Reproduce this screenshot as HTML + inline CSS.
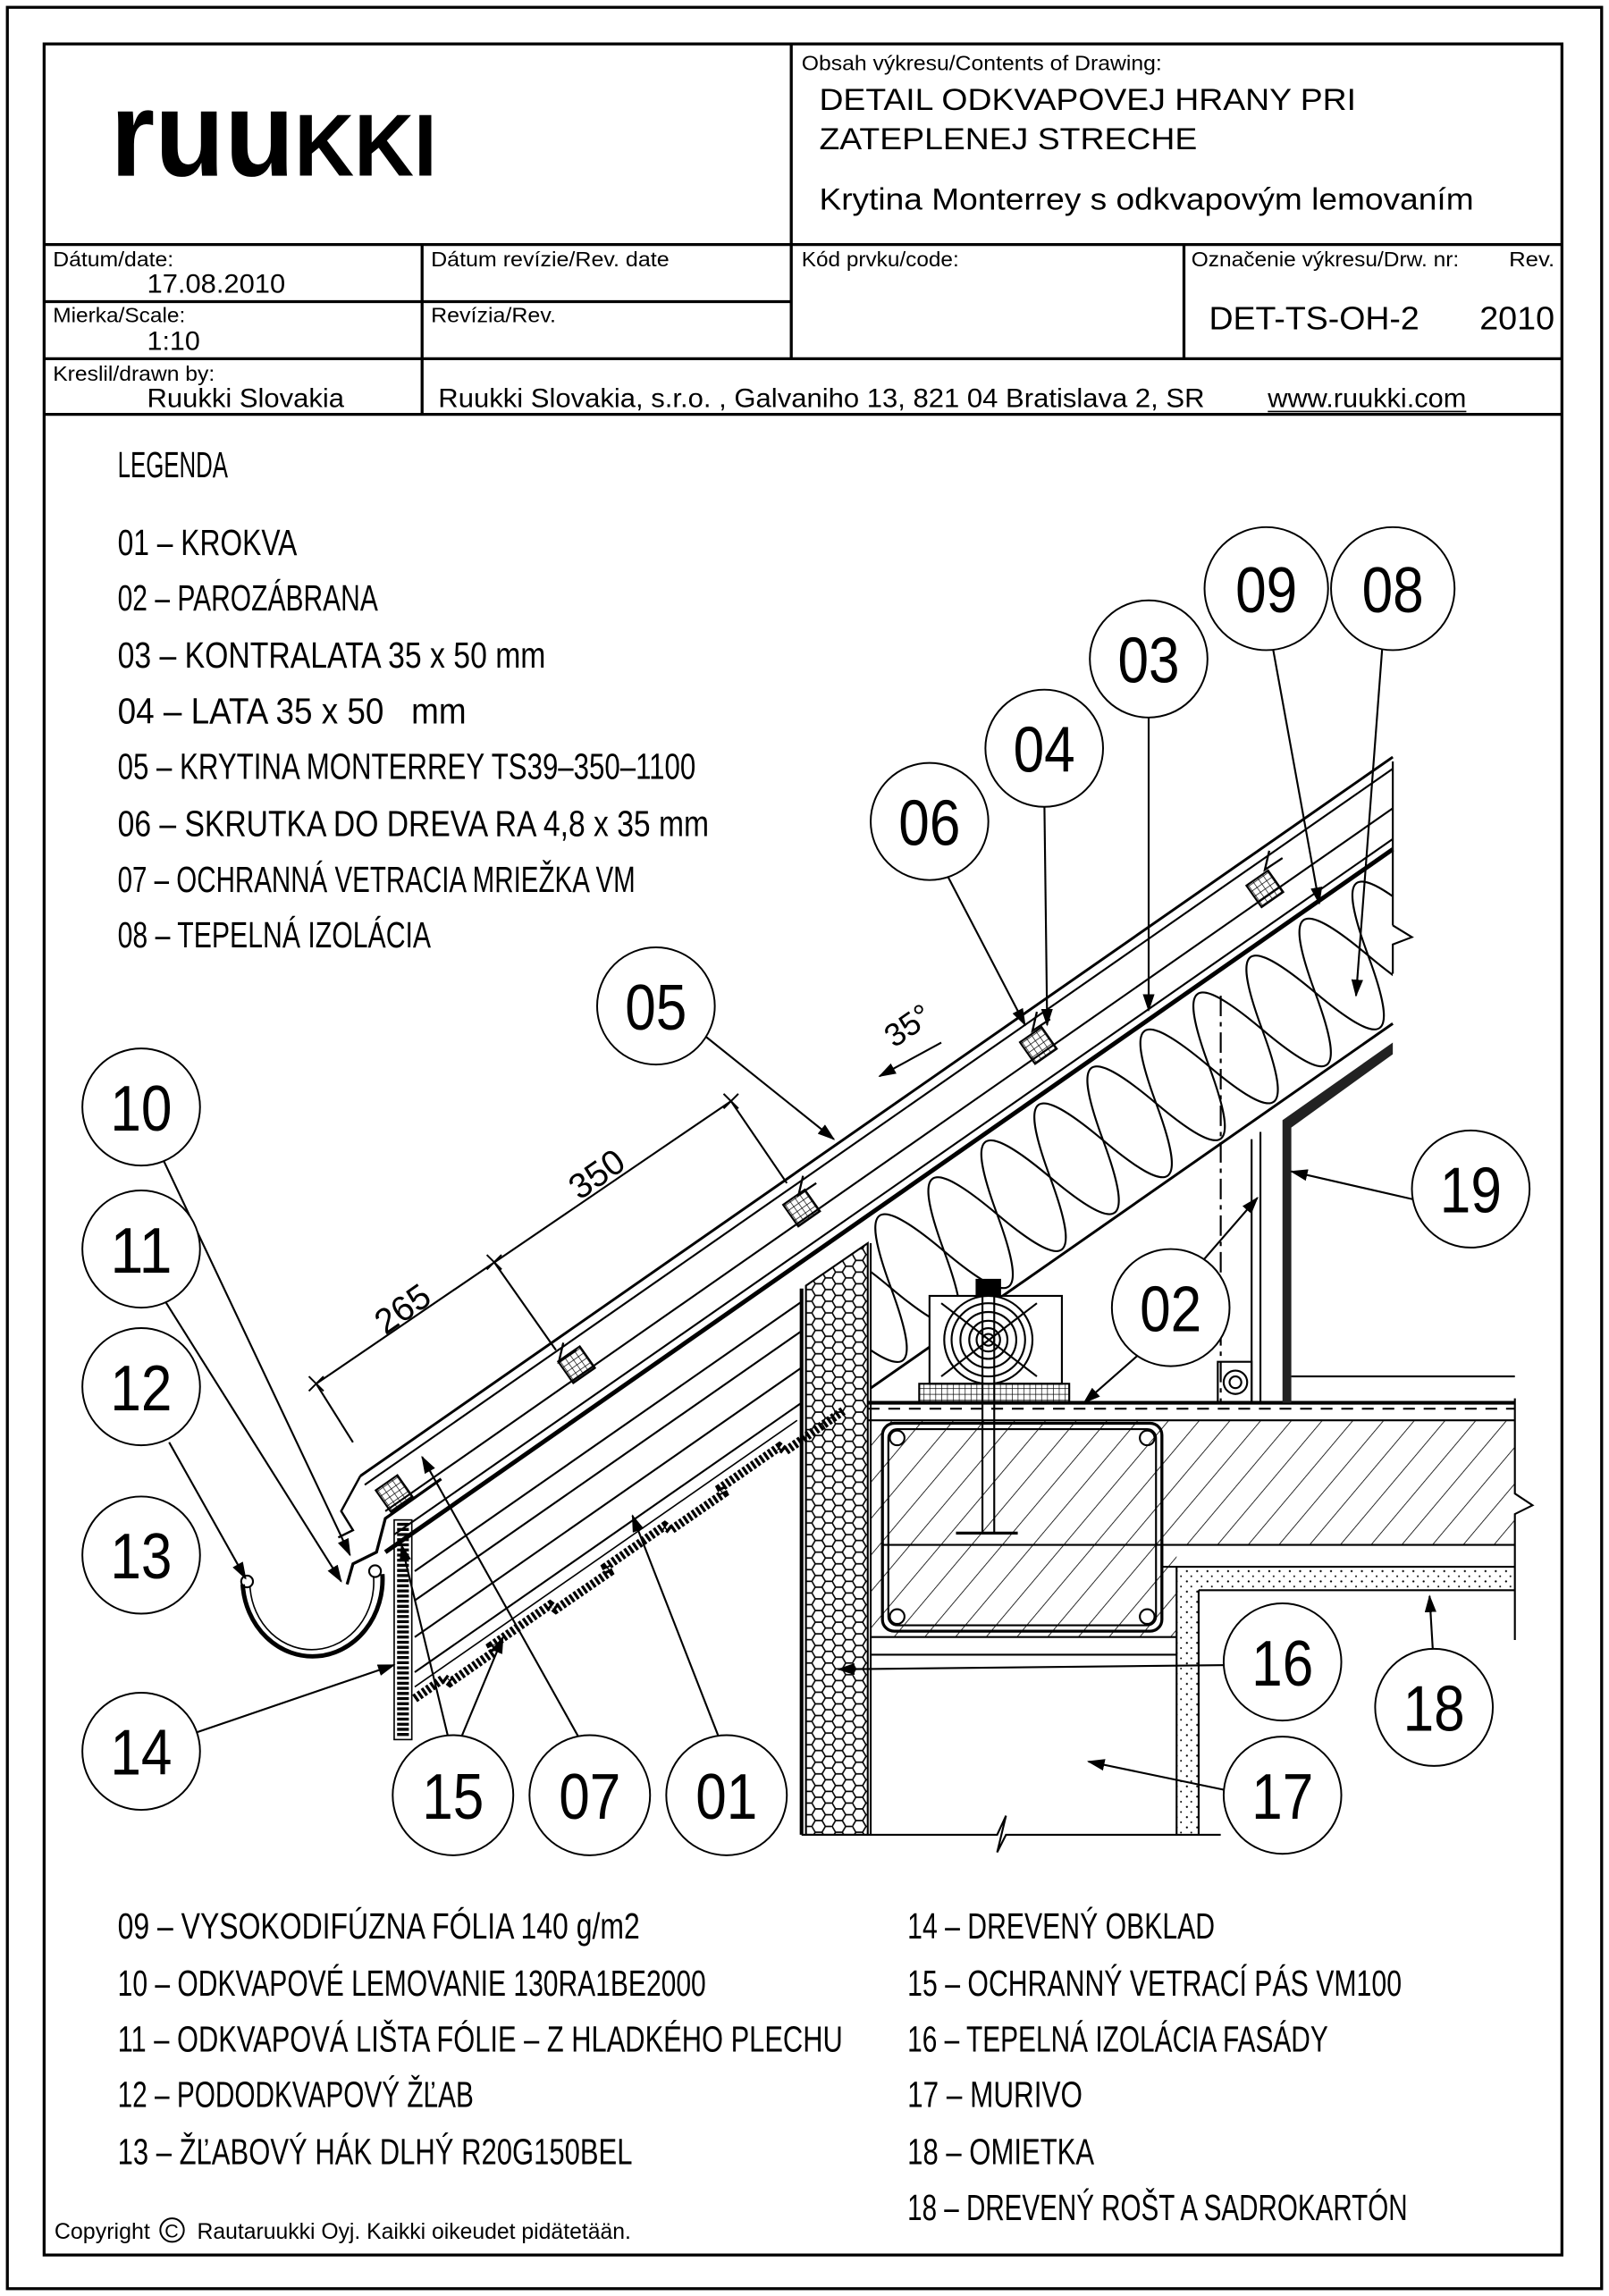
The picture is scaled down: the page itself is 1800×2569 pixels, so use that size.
<!DOCTYPE html>
<html><head><meta charset="utf-8"><style>
html,body{margin:0;padding:0;background:#fff}
svg{display:block}
.t{font-family:"Liberation Sans",sans-serif;fill:#000}
.l{font-family:"Liberation Sans",sans-serif;fill:#000;font-size:25px}
.n{font-family:"Liberation Sans",sans-serif;fill:#000;font-size:44px}
</style></head><body>
<svg width="1800" height="2569" viewBox="0 0 1094 1568" preserveAspectRatio="none" xmlns="http://www.w3.org/2000/svg">
<defs>
<marker id="ar" markerWidth="12" markerHeight="8" refX="11" refY="4" orient="auto" markerUnits="userSpaceOnUse"><path d="M0,0 L12,4 L0,8 Z" fill="#000"/></marker>
<pattern id="hex" width="13.8" height="7.97" patternUnits="userSpaceOnUse"><path d="M0,3.98 L2.3,0 L6.9,0 L9.2,3.98 L6.9,7.97 L2.3,7.97 Z M9.2,3.98 L13.8,3.98" fill="none" stroke="#000" stroke-width="1"/></pattern>
<pattern id="hatch" width="16" height="16" patternUnits="userSpaceOnUse" patternTransform="rotate(40)"><line x1="0" y1="0" x2="0" y2="16" stroke="#000" stroke-width="1"/></pattern>
<pattern id="grid" width="4" height="4" patternUnits="userSpaceOnUse"><path d="M0,0H4M0,0V4" stroke="#000" stroke-width="0.8" fill="none"/></pattern>
<pattern id="dots" width="7" height="7" patternUnits="userSpaceOnUse"><circle cx="2" cy="2" r="0.7" fill="#000"/><circle cx="5" cy="5.5" r="0.6" fill="#000"/></pattern>
<clipPath id="ins"><polygon points="592,832 947,584 947,699 592,948"/></clipPath>
</defs>
<rect x="5" y="5" width="1084" height="1558" fill="none" stroke="#000" stroke-width="2"/>
<rect x="30" y="30" width="1032" height="1510" fill="none" stroke="#000" stroke-width="2"/>
<g stroke="#000" stroke-width="2">
<line x1="538" y1="30" x2="538" y2="245"/>
<line x1="30" y1="167" x2="1062" y2="167"/>
<line x1="30" y1="206" x2="538" y2="206"/>
<line x1="30" y1="245" x2="1062" y2="245"/>
<line x1="30" y1="283" x2="1062" y2="283"/>
<line x1="287" y1="167" x2="287" y2="283"/>
<line x1="805" y1="167" x2="805" y2="245"/>
</g>
<text class="t" x="75" y="120" font-weight="bold" textLength="222" lengthAdjust="spacingAndGlyphs"><tspan font-size="83">ruu</tspan><tspan font-size="60">KKI</tspan></text>
<text class="t" x="545" y="48" font-size="14" textLength="245" lengthAdjust="spacingAndGlyphs">Obsah výkresu/Contents of Drawing:</text>
<text class="t" x="557" y="75" font-size="21" textLength="365" lengthAdjust="spacingAndGlyphs">DETAIL ODKVAPOVEJ HRANY PRI</text>
<text class="t" x="557" y="102" font-size="21" textLength="257" lengthAdjust="spacingAndGlyphs">ZATEPLENEJ STRECHE</text>
<text class="t" x="557" y="143" font-size="21" textLength="445" lengthAdjust="spacingAndGlyphs">Krytina Monterrey s odkvapovým lemovaním</text>
<text class="t" x="36" y="182" font-size="14" textLength="82" lengthAdjust="spacingAndGlyphs">Dátum/date:</text>
<text class="t" x="100" y="200" font-size="18" textLength="94" lengthAdjust="spacingAndGlyphs">17.08.2010</text>
<text class="t" x="36" y="220" font-size="14" textLength="90" lengthAdjust="spacingAndGlyphs">Mierka/Scale:</text>
<text class="t" x="100" y="239" font-size="18" textLength="36" lengthAdjust="spacingAndGlyphs">1:10</text>
<text class="t" x="293" y="182" font-size="14" textLength="162" lengthAdjust="spacingAndGlyphs">Dátum revízie/Rev. date</text>
<text class="t" x="293" y="220" font-size="14" textLength="85" lengthAdjust="spacingAndGlyphs">Revízia/Rev.</text>
<text class="t" x="545" y="182" font-size="14" textLength="107" lengthAdjust="spacingAndGlyphs">Kód prvku/code:</text>
<text class="t" x="810" y="182" font-size="14" textLength="182" lengthAdjust="spacingAndGlyphs">Označenie výkresu/Drw. nr:</text>
<text class="t" x="1026" y="182" font-size="14" textLength="31" lengthAdjust="spacingAndGlyphs">Rev.</text>
<text class="t" x="822" y="225" font-size="22" textLength="143" lengthAdjust="spacingAndGlyphs">DET-TS-OH-2</text>
<text class="t" x="1006" y="225" font-size="22" textLength="51" lengthAdjust="spacingAndGlyphs">2010</text>
<text class="t" x="36" y="260" font-size="14" textLength="110" lengthAdjust="spacingAndGlyphs">Kreslil/drawn by:</text>
<text class="t" x="100" y="278" font-size="18" textLength="134" lengthAdjust="spacingAndGlyphs">Ruukki Slovakia</text>
<text class="t" x="298" y="278" font-size="18" textLength="521" lengthAdjust="spacingAndGlyphs">Ruukki Slovakia, s.r.o. , Galvaniho 13, 821 04 Bratislava 2, SR</text>
<text class="t" x="862" y="278" font-size="18" textLength="135" lengthAdjust="spacingAndGlyphs">www.ruukki.com</text>
<line x1="862" y1="281" x2="997" y2="281" stroke="#000" stroke-width="1"/>
<text class="l" x="80" y="326" textLength="75" lengthAdjust="spacingAndGlyphs">LEGENDA</text>
<text class="l" x="80" y="379" textLength="122" lengthAdjust="spacingAndGlyphs">01 – KROKVA</text>
<text class="l" x="80" y="417" textLength="177" lengthAdjust="spacingAndGlyphs">02 – PAROZÁBRANA</text>
<text class="l" x="80" y="456" textLength="291" lengthAdjust="spacingAndGlyphs">03 – KONTRALATA 35 x 50 mm</text>
<text class="l" x="80" y="494" textLength="237" lengthAdjust="spacingAndGlyphs">04 – LATA 35 x 50&#160;&#160;&#160;mm</text>
<text class="l" x="80" y="532" textLength="393" lengthAdjust="spacingAndGlyphs">05 – KRYTINA MONTERREY TS39–350–1100</text>
<text class="l" x="80" y="571" textLength="402" lengthAdjust="spacingAndGlyphs">06 – SKRUTKA DO DREVA RA 4,8 x 35 mm</text>
<text class="l" x="80" y="609" textLength="352" lengthAdjust="spacingAndGlyphs">07 – OCHRANNÁ VETRACIA MRIEŽKA VM</text>
<text class="l" x="80" y="647" textLength="213" lengthAdjust="spacingAndGlyphs">08 – TEPELNÁ IZOLÁCIA</text>
<text class="l" x="80" y="1324" textLength="355" lengthAdjust="spacingAndGlyphs">09 – VYSOKODIFÚZNA FÓLIA 140 g/m2</text>
<text class="l" x="80" y="1363" textLength="400" lengthAdjust="spacingAndGlyphs">10 – ODKVAPOVÉ LEMOVANIE 130RA1BE2000</text>
<text class="l" x="80" y="1401" textLength="493" lengthAdjust="spacingAndGlyphs">11 – ODKVAPOVÁ LIŠTA FÓLIE – Z HLADKÉHO PLECHU</text>
<text class="l" x="80" y="1439" textLength="242" lengthAdjust="spacingAndGlyphs">12 – PODODKVAPOVÝ ŽĽAB</text>
<text class="l" x="80" y="1478" textLength="350" lengthAdjust="spacingAndGlyphs">13 – ŽĽABOVÝ HÁK DLHÝ R20G150BEL</text>
<text class="l" x="617" y="1324" textLength="209" lengthAdjust="spacingAndGlyphs">14 – DREVENÝ OBKLAD</text>
<text class="l" x="617" y="1363" textLength="336" lengthAdjust="spacingAndGlyphs">15 – OCHRANNÝ VETRACÍ PÁS VM100</text>
<text class="l" x="617" y="1401" textLength="286" lengthAdjust="spacingAndGlyphs">16 – TEPELNÁ IZOLÁCIA FASÁDY</text>
<text class="l" x="617" y="1439" textLength="119" lengthAdjust="spacingAndGlyphs">17 – MURIVO</text>
<text class="l" x="617" y="1478" textLength="127" lengthAdjust="spacingAndGlyphs">18 – OMIETKA</text>
<text class="l" x="617" y="1516" textLength="340" lengthAdjust="spacingAndGlyphs">18 – DREVENÝ ROŠT A SADROKARTÓN</text>
<text class="t" x="37" y="1529" font-size="15" textLength="65" lengthAdjust="spacingAndGlyphs">Copyright</text>
<circle cx="117" cy="1523" r="8" fill="none" stroke="#000" stroke-width="1.2"/>
<text class="t" x="112" y="1528" font-size="13">C</text>
<text class="t" x="134" y="1529" font-size="15" textLength="295" lengthAdjust="spacingAndGlyphs">Rautaruukki Oyj. Kaikki oikeudet pidätetään.</text>

<g fill="none" stroke="#000" stroke-width="1.3">
<rect x="592" y="970" width="438" height="85" fill="url(#hatch)" stroke="none"/>
<rect x="592" y="1055" width="208" height="63" fill="url(#hatch)" stroke="none"/>
<rect x="800" y="1072" width="230" height="14" fill="url(#dots)" stroke="none"/>
<rect x="800" y="1086" width="15" height="167" fill="url(#dots)" stroke="none"/>
<line x1="590" y1="958" x2="1030" y2="958" stroke-width="2.5"/>
<line x1="590" y1="962" x2="1030" y2="962" stroke-dasharray="8,6"/>
<line x1="590" y1="970" x2="1030" y2="970"/>
<line x1="600" y1="1055" x2="1030" y2="1055"/>
<line x1="790" y1="1070" x2="1030" y2="1070"/>
<line x1="815" y1="1086" x2="1030" y2="1086"/>
<line x1="800" y1="1070" x2="800" y2="1253"/>
<line x1="815" y1="1086" x2="815" y2="1253"/>
<line x1="592" y1="1118" x2="800" y2="1118"/>
<line x1="592" y1="1130" x2="800" y2="1130"/>
<rect x="600" y="972" width="190" height="142" rx="8" stroke-width="2"/>
<rect x="604" y="976" width="182" height="134" rx="6"/>
<circle cx="610" cy="982" r="5"/><circle cx="780" cy="982" r="5"/><circle cx="610" cy="1104" r="5"/><circle cx="780" cy="1104" r="5"/>
<polyline points="1030,955 1030,1020 1042,1028 1030,1034 1030,1120"/>
<polygon points="548,878 590,849 590,1253 548,1253" fill="url(#hex)"/>
<line x1="545" y1="880" x2="545" y2="1253" stroke-width="2.5"/>
<line x1="592" y1="849" x2="592" y2="1253"/>
<polyline points="545,1253 678,1253 684,1240 678,1265 684,1253 830,1253"/>
<line x1="245" y1="1008" x2="947" y2="517" stroke-width="1.8"/>
<line x1="248" y1="1014" x2="947" y2="525"/>
<line x1="262" y1="1032" x2="947" y2="552"/>
<line x1="268" y1="1048" x2="947" y2="573"/>
<line x1="262" y1="1060" x2="947" y2="580" stroke-width="3"/>
<line x1="282" y1="1073" x2="545" y2="889"/>
<line x1="282" y1="1093" x2="545" y2="909"/>
<line x1="282" y1="1118" x2="545" y2="934"/>
<line x1="282" y1="1142" x2="545" y2="958"/>
<line x1="592" y1="948" x2="947" y2="699" stroke-width="1.8"/>
<path d="M282,1160 l20,-14 l4,3 l30,-21 l-2,-4 l40,-28 l4,3 l36,-25 l-2,-4 l40,-28 l4,3 l36,-25 l-2,-4 l40,-28 l4,3 l40,-28" stroke-width="6" stroke-dasharray="2,1.5"/>
<path d="M282,1152 l260,-182" stroke-width="1"/>
<rect x="268" y="1038" width="12" height="150" stroke-width="1"/>
<line x1="274" y1="1040" x2="274" y2="1186" stroke-width="8" stroke-dasharray="2,1.5"/>
<polyline points="300,1010 262,1037 256,1060 240,1068 236,1082" stroke-width="2"/>
<polyline points="245,1008 232,1032 240,1045 230,1050" stroke-width="1.5"/>
<path d="M165,1082 A47,52 0 0 0 260,1075" stroke-width="3"/>
<path d="M170,1084 A42,46 0 0 0 254,1077" stroke-width="1"/>
<circle cx="168" cy="1080" r="4"/><circle cx="255" cy="1073" r="4"/>
<g clip-path="url(#ins)"><g transform="translate(592,832) rotate(-35)">
<path d="M-60,47 c15.8,-60 28.2,-60 44,0 c15.8,60 28.2,60 44,0 c15.8,-60 28.2,-60 44,0 c15.8,60 28.2,60 44,0 c15.8,-60 28.2,-60 44,0 c15.8,60 28.2,60 44,0 c15.8,-60 28.2,-60 44,0 c15.8,60 28.2,60 44,0 c15.8,-60 28.2,-60 44,0 c15.8,60 28.2,60 44,0 c15.8,-60 28.2,-60 44,0 c15.8,60 28.2,60 44,0 c15.8,-60 28.2,-60 44,0 c15.8,60 28.2,60 44,0"/>
<path d="M-60,47 c15.8,60 28.2,60 44,0 c15.8,-60 28.2,-60 44,0 c15.8,60 28.2,60 44,0 c15.8,-60 28.2,-60 44,0 c15.8,60 28.2,60 44,0 c15.8,-60 28.2,-60 44,0 c15.8,60 28.2,60 44,0 c15.8,-60 28.2,-60 44,0 c15.8,60 28.2,60 44,0 c15.8,-60 28.2,-60 44,0 c15.8,60 28.2,60 44,0 c15.8,-60 28.2,-60 44,0 c15.8,60 28.2,60 44,0 c15.8,-60 28.2,-60 44,0"/>
</g></g>
<g stroke-width="1.4">
<polyline points="383,917 380,930 392,922"/><polyline points="546,803 543,816 555,808"/><polyline points="705,691 702,704 714,696"/><polyline points="863,581 860,594 872,586"/>
</g>
<g transform="translate(392,932) rotate(-35)"><rect x="-9" y="-9" width="18" height="18" fill="url(#grid)"/></g>
<g transform="translate(545,825) rotate(-35)"><rect x="-9" y="-9" width="18" height="18" fill="url(#grid)"/></g>
<g transform="translate(706,714) rotate(-35)"><rect x="-9" y="-9" width="18" height="18" fill="url(#grid)"/></g>
<g transform="translate(860,607) rotate(-35)"><rect x="-9" y="-9" width="18" height="18" fill="url(#grid)"/></g>
<g transform="translate(268,1020) rotate(-35)"><rect x="-9" y="-9" width="18" height="18" fill="url(#grid)"/></g>
<line x1="947" y1="520" x2="947" y2="632"/>
<polyline points="947,632 960,640 947,645 947,665"/>
<polygon points="872,765 947,712 947,720 878,770 878,958 872,958" fill="#222" stroke="none"/>
<line x1="851" y1="778" x2="851" y2="958"/>
<line x1="857" y1="773" x2="857" y2="958"/>
<line x1="830" y1="680" x2="830" y2="958" stroke-dasharray="14,4,3,4"/>
<line x1="878" y1="940" x2="1030" y2="940"/>
<rect x="828" y="930" width="23" height="28"/>
<circle cx="840" cy="944" r="4"/><circle cx="840" cy="944" r="8"/>
<rect x="632" y="885" width="90" height="60" fill="#fff"/>
<circle cx="672" cy="915" r="4"/><circle cx="672" cy="915" r="8"/><circle cx="672" cy="915" r="13"/><circle cx="672" cy="915" r="19"/><circle cx="672" cy="915" r="25"/><circle cx="672" cy="915" r="30"/>
<line x1="640" y1="890" x2="705" y2="940"/><line x1="640" y1="940" x2="705" y2="890"/>
<rect x="625" y="945" width="102" height="13" fill="url(#grid)"/>
<line x1="668" y1="875" x2="668" y2="1047"/><line x1="676" y1="875" x2="676" y2="1047"/>
<rect x="664" y="874" width="16" height="10" fill="#000"/>
<line x1="650" y1="1047" x2="692" y2="1047" stroke-width="2"/>
<line x1="215" y1="945" x2="497" y2="752"/>
<g stroke-width="1.2"><path d="M210,940l10,10M220,940l-10,10M331,857l10,10M341,857l-10,10M492,747l10,10M502,747l-10,10"/></g>
<line x1="215" y1="945" x2="240" y2="985"/><line x1="336" y1="862" x2="378" y2="922"/><line x1="497" y1="752" x2="535" y2="808"/>
<line x1="640" y1="712" x2="598" y2="735" marker-end="url(#ar)"/>
</g>
<text class="t" font-size="24" transform="translate(262,912) rotate(-35)">265</text>
<text class="t" font-size="24" transform="translate(394,820) rotate(-35)">350</text>
<text class="t" font-size="22" transform="translate(608,716) rotate(-35)">35°</text>

<g stroke="#000" stroke-width="1.3" fill="none" marker-end="url(#ar)">
<line x1="110" y1="790" x2="238" y2="1062"/>
<line x1="110" y1="885" x2="232" y2="1080"/>
<line x1="115" y1="985" x2="167" y2="1078"/>
<line x1="96" y1="1196" x2="268" y2="1137"/>
<line x1="308" y1="1200" x2="273" y2="1055"/>
<line x1="308" y1="1200" x2="342" y2="1118"/>
<line x1="401" y1="1200" x2="287" y2="995"/>
<line x1="494" y1="1200" x2="430" y2="1035"/>
<line x1="470" y1="700" x2="567" y2="778"/>
<line x1="640" y1="590" x2="697" y2="700"/>
<line x1="710" y1="540" x2="712" y2="700"/>
<line x1="781" y1="480" x2="781" y2="690"/>
<line x1="865" y1="440" x2="897" y2="617"/>
<line x1="940" y1="440" x2="922" y2="680"/>
<line x1="965" y1="820" x2="878" y2="800"/>
<line x1="810" y1="870" x2="855" y2="818"/>
<line x1="780" y1="920" x2="737" y2="958"/>
<line x1="850" y1="1137" x2="570" y2="1140"/>
<line x1="975" y1="1140" x2="972" y2="1090"/>
<line x1="850" y1="1226" x2="740" y2="1203"/>
</g>
<g stroke="#000" stroke-width="1.2" fill="#fff">
<circle cx="96" cy="756" r="40"/><circle cx="96" cy="853" r="40"/><circle cx="96" cy="947" r="40"/><circle cx="96" cy="1062" r="40"/><circle cx="96" cy="1196" r="40"/>
<circle cx="308" cy="1226" r="41"/><circle cx="401" cy="1226" r="41"/><circle cx="494" cy="1226" r="41"/>
<circle cx="446" cy="687" r="40"/><circle cx="632" cy="561" r="40"/><circle cx="710" cy="511" r="40"/><circle cx="781" cy="450" r="40"/>
<circle cx="861" cy="402" r="42"/><circle cx="947" cy="402" r="42"/>
<circle cx="1000" cy="812" r="40"/><circle cx="796" cy="893" r="40"/><circle cx="872" cy="1135" r="40"/><circle cx="975" cy="1166" r="40"/><circle cx="872" cy="1226" r="40"/>
</g>
<g text-anchor="middle">
<text class="n" x="96" y="772" textLength="42" lengthAdjust="spacingAndGlyphs">10</text><text class="n" x="96" y="869" textLength="42" lengthAdjust="spacingAndGlyphs">11</text><text class="n" x="96" y="963" textLength="42" lengthAdjust="spacingAndGlyphs">12</text><text class="n" x="96" y="1078" textLength="42" lengthAdjust="spacingAndGlyphs">13</text><text class="n" x="96" y="1212" textLength="42" lengthAdjust="spacingAndGlyphs">14</text>
<text class="n" x="308" y="1242" textLength="42" lengthAdjust="spacingAndGlyphs">15</text><text class="n" x="401" y="1242" textLength="42" lengthAdjust="spacingAndGlyphs">07</text><text class="n" x="494" y="1242" textLength="42" lengthAdjust="spacingAndGlyphs">01</text>
<text class="n" x="446" y="703" textLength="42" lengthAdjust="spacingAndGlyphs">05</text><text class="n" x="632" y="577" textLength="42" lengthAdjust="spacingAndGlyphs">06</text><text class="n" x="710" y="527" textLength="42" lengthAdjust="spacingAndGlyphs">04</text><text class="n" x="781" y="466" textLength="42" lengthAdjust="spacingAndGlyphs">03</text>
<text class="n" x="861" y="418" textLength="42" lengthAdjust="spacingAndGlyphs">09</text><text class="n" x="947" y="418" textLength="42" lengthAdjust="spacingAndGlyphs">08</text>
<text class="n" x="1000" y="828" textLength="42" lengthAdjust="spacingAndGlyphs">19</text><text class="n" x="796" y="909" textLength="42" lengthAdjust="spacingAndGlyphs">02</text><text class="n" x="872" y="1151" textLength="42" lengthAdjust="spacingAndGlyphs">16</text><text class="n" x="975" y="1182" textLength="42" lengthAdjust="spacingAndGlyphs">18</text><text class="n" x="872" y="1242" textLength="42" lengthAdjust="spacingAndGlyphs">17</text>
</g>
</svg>
</body></html>
